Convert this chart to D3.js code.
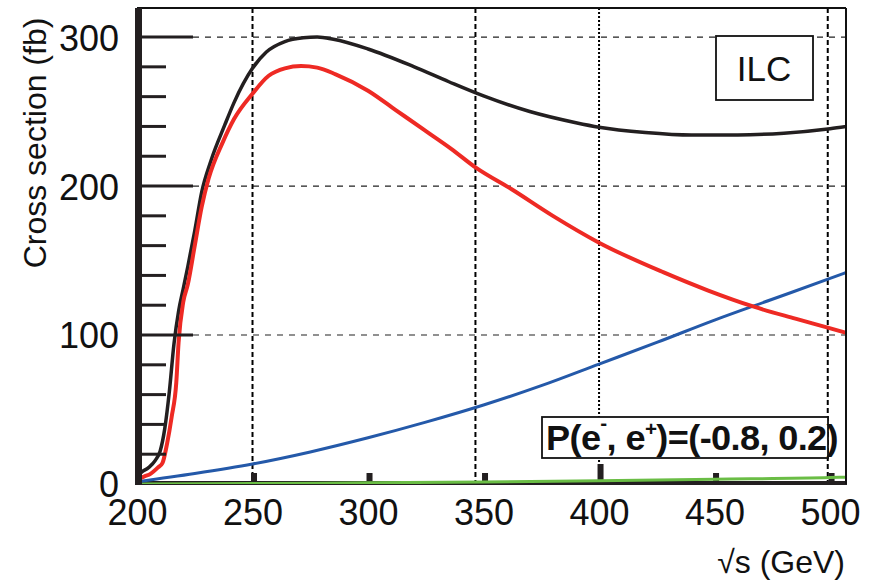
<!DOCTYPE html>
<html>
<head>
<meta charset="utf-8">
<script src="https://cdn.jsdelivr.net/npm/d3@7"></script>
<style>
  body { margin: 0; background: #fff; }
  text { font-family: "Liberation Sans", Arial, sans-serif; fill: #111; }
</style>
</head>
<body>
<script>
// total cross section (black)
var totalSqrtS = [200, 202, 205, 208, 210, 212, 214, 216, 218, 220, 222, 225, 228, 232, 238, 242, 250, 256, 264, 272, 278, 285, 300, 320, 335, 350, 370, 390, 400, 420, 440, 460, 480, 500, 507];
var totalXS    = [5, 8, 11, 16, 22, 37, 62, 94, 116, 131, 146, 170, 196, 217, 241, 256, 279, 290, 297, 299.5, 300, 298.5, 292, 280, 270, 260.5, 250, 242.5, 239.5, 236, 234.3, 234.3, 235.5, 238.5, 240];

// red curve
var redSqrtS = [200, 203, 206, 209, 211, 213, 215, 217, 218, 220, 222, 225, 228, 231, 237, 242, 250, 257, 264, 271, 278, 286, 300, 312, 324, 336, 347, 362, 380, 400, 428, 447, 467, 485, 499, 507];
var redXS    = [3, 5, 7, 11, 14, 27, 45, 68, 95, 122, 134, 160, 186, 205, 229, 245, 262, 274, 279, 280.5, 279.5, 275, 264, 251, 238, 225, 212, 198, 180, 162, 142, 130, 119, 111, 105, 101.5];

// blue curve
var blueSqrtS = [200, 225, 250, 275, 300, 325, 350, 375, 400, 425, 450, 475, 500, 507];
var blueXS    = [1.5, 7, 13.4, 21.5, 31, 41.5, 53, 66, 80.5, 95, 110, 124, 138, 142];

// green curve
var greenSqrtS = [200, 250, 300, 350, 400, 450, 500, 507];
var greenXS    = [0, 0.3, 0.8, 1.3, 2.2, 3.2, 4.3, 4.6];

var xTicks = [200, 250, 300, 350, 400, 450, 500];
var yMajor = [0, 100, 200, 300];
var yMinor = [20, 40, 60, 80, 120, 140, 160, 180, 220, 240, 260, 280];
var gridX = [250, 346.5, 400, 499];

var svg = d3.select("body").append("svg")
  .attr("width", 870)
  .attr("height", 580);

var pLeft = 137, pRight = 846, pTop = 8, pBottom = 484;

var x = d3.scaleLinear().domain([200, 506.9]).range([pLeft, pRight]);
var y = d3.scaleLinear().domain([0, 319.5]).range([pBottom, pTop]);

// grid
svg.selectAll(".hgrid")
  .data([100, 200, 300])
  .enter().append("line")
  .attr("x1", 193).attr("x2", pRight)
  .attr("y1", function(d){ return y(d); })
  .attr("y2", function(d){ return y(d); })
  .attr("stroke", "#222")
  .attr("stroke-width", 1.2)
  .attr("stroke-dasharray", "6,6");

svg.selectAll(".vgrid")
  .data(gridX)
  .enter().append("line")
  .attr("x1", function(d){ return x(d); })
  .attr("x2", function(d){ return x(d); })
  .attr("y1", pTop).attr("y2", pBottom)
  .attr("stroke", "#000")
  .attr("stroke-width", 2)
  .attr("stroke-dasharray", function(d){ return d == 400 ? "2,2" : "5,3"; });

// x ticks
svg.selectAll(".xt")
  .data(xTicks.slice(1))
  .enter().append("rect")
  .attr("x", function(d){ return x(d) - 1.5; })
  .attr("width", 6)
  .attr("y", function(d){ return d == 400 ? pBottom - 20 : pBottom - 11; })
  .attr("height", function(d){ return d == 400 ? 20 : 11; })
  .attr("fill", "#231f20");

// bottom axis line
svg.append("line").attr("x1", pLeft - 2).attr("x2", pRight + 1).attr("y1", pBottom - 1).attr("y2", pBottom - 1)
  .attr("stroke", "#231f20").attr("stroke-width", 4);

// curves
svg.append("clipPath").attr("id", "clip")
  .append("rect").attr("x", pLeft).attr("y", pTop)
  .attr("width", pRight - pLeft).attr("height", pBottom - pTop);

var curves = [
  {xs: greenSqrtS, ys: greenXS, color: "#6abd45", w: 3},
  {xs: blueSqrtS, ys: blueXS, color: "#2459a9", w: 3},
  {xs: totalSqrtS, ys: totalXS, color: "#231f20", w: 3.5},
  {xs: redSqrtS, ys: redXS, color: "#ee2a24", w: 4}
];

var line = d3.line()
  .x(function(d){ return x(d[0]); })
  .y(function(d){ return y(d[1]); })
  .curve(d3.curveMonotoneX);

curves.forEach(function(c) {
  svg.append("path")
    .datum(d3.zip(c.xs, c.ys))
    .attr("clip-path", "url(#clip)")
    .attr("d", line)
    .attr("fill", "none")
    .attr("stroke", c.color)
    .attr("stroke-width", c.w)
    .attr("stroke-linejoin", "round");
});

// y ticks (pointing into the frame)
svg.selectAll(".ymaj")
  .data(yMajor.slice(1))
  .enter().append("line")
  .attr("x1", pLeft + 5).attr("x2", 193)
  .attr("y1", function(d){ return y(d); })
  .attr("y2", function(d){ return y(d); })
  .attr("stroke", "#231f20").attr("stroke-width", 3);

svg.selectAll(".ymin")
  .data(yMinor)
  .enter().append("line")
  .attr("x1", pLeft + 5).attr("x2", 166)
  .attr("y1", function(d){ return y(d); })
  .attr("y2", function(d){ return y(d); })
  .attr("stroke", "#231f20").attr("stroke-width", 3);

// frame
svg.append("line").attr("x1", pLeft).attr("x2", pRight).attr("y1", pTop).attr("y2", pTop)
  .attr("stroke", "#111").attr("stroke-width", 2);
svg.append("line").attr("x1", pRight).attr("x2", pRight).attr("y1", pTop).attr("y2", pBottom)
  .attr("stroke", "#111").attr("stroke-width", 2);
svg.append("line").attr("x1", pLeft + 1.5).attr("x2", pLeft + 1.5).attr("y1", pTop).attr("y2", pBottom + 1)
  .attr("stroke", "#231f20").attr("stroke-width", 7);

// tick labels
svg.append("g")
  .attr("transform", "translate(" + 119 + ",0)")
  .call(d3.axisLeft(y).tickValues(yMajor).tickSize(0).tickPadding(0))
  .call(function(g){ g.select(".domain").remove(); })
  .selectAll("text")
  .attr("font-size", 36)
  .attr("font-family", "Liberation Sans, Arial, sans-serif")
  .attr("fill", "#111")
  .attr("dy", "0.36em");

svg.append("g")
  .attr("transform", "translate(0," + pBottom + ")")
  .call(d3.axisBottom(x).tickValues(xTicks).tickSize(0).tickPadding(15))
  .call(function(g){ g.select(".domain").remove(); })
  .selectAll("text")
  .attr("font-size", 36)
  .attr("font-family", "Liberation Sans, Arial, sans-serif")
  .attr("fill", "#111")
  .attr("dy", "0.71em");

// axis titles
svg.append("text")
  .attr("transform", "translate(46,143) rotate(-90)")
  .attr("text-anchor", "middle")
  .attr("font-size", 32)
  .text("Cross section (fb)");

svg.append("text")
  .attr("x", 845).attr("y", 573)
  .attr("text-anchor", "end")
  .attr("font-size", 32)
  .text("\u221As (GeV)");

// ILC box
svg.append("rect")
  .attr("x", 716).attr("y", 36).attr("width", 97).attr("height", 64)
  .attr("fill", "#fff").attr("stroke", "#111").attr("stroke-width", 1.8);
svg.append("text")
  .attr("x", 764).attr("y", 81)
  .attr("text-anchor", "middle")
  .attr("font-size", 35)
  .text("ILC");

// polarisation label
svg.append("rect")
  .attr("x", 542).attr("y", 417).attr("width", 286).attr("height", 41)
  .attr("fill", "#fff").attr("stroke", "#111").attr("stroke-width", 1.8);
var pl = svg.append("text")
  .attr("x", 546).attr("y", 450)
  .attr("font-size", 35)
  .attr("font-weight", "bold")
  .attr("letter-spacing", -0.6)
  .attr("textLength", 292)
  .attr("lengthAdjust", "spacingAndGlyphs");
pl.append("tspan").text("P(e");
pl.append("tspan").attr("font-size", 20).attr("dy", -20).text("-");
pl.append("tspan").attr("dy", 20).text(", e");
pl.append("tspan").attr("font-size", 20).attr("dy", -14).text("+");
pl.append("tspan").attr("dy", 14).text(")=(-0.8, 0.2)");
</script>
</body>
</html>
